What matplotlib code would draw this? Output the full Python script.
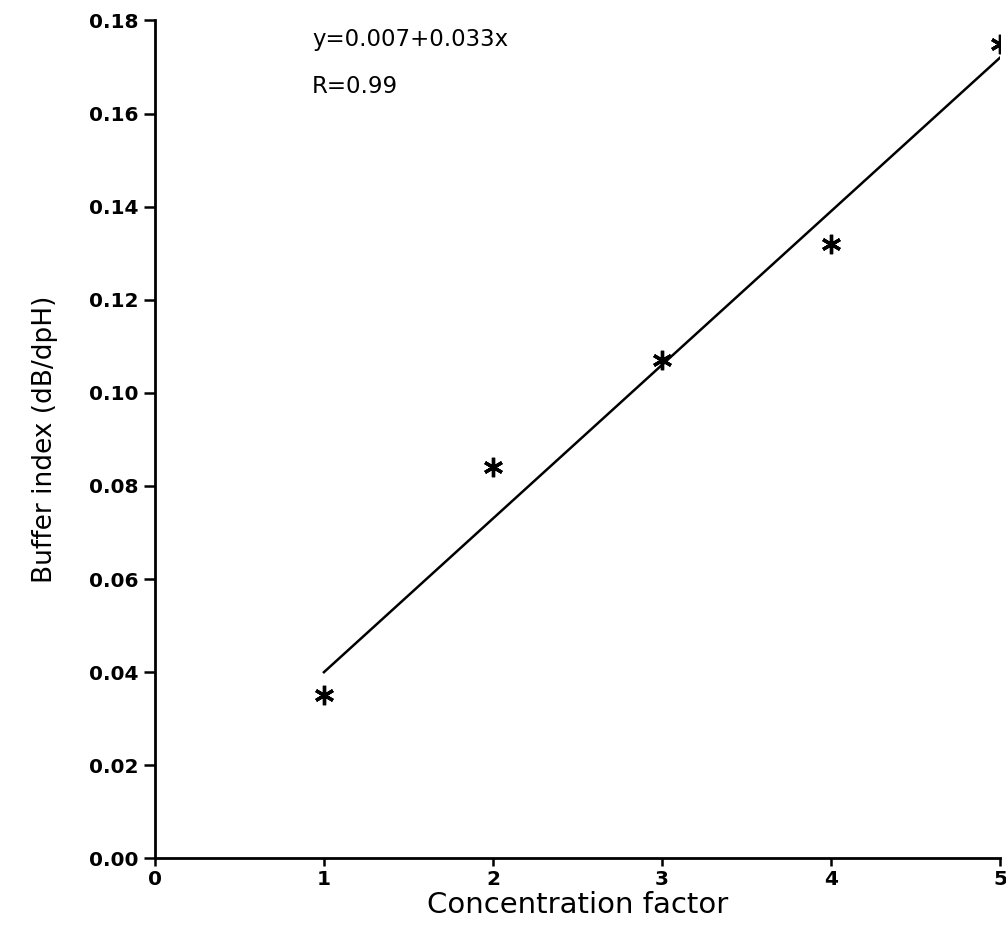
import matplotlib
matplotlib.use("Agg")
import matplotlib.pyplot as plt
import numpy as np

# measured buffer index vs concentration factor
conc = [1, 2, 3, 4, 5]
buffer_index = [0.035, 0.084, 0.107, 0.132, 0.175]

# linear fit y = a + b*x
fit_a = 0.007
fit_b = 0.033
fit_r = 0.99

xticks = [0, 1, 2, 3, 4, 5]
yticks = [0.00, 0.02, 0.04, 0.06, 0.08, 0.10, 0.12, 0.14, 0.16, 0.18]

plt.rcParams["font.family"] = ["DejaVu Sans"]

fig = plt.figure(figsize=(10.06, 9.3), dpi=100)
ax = fig.add_axes([0.154, 0.077, 0.840, 0.901])

xf = np.array([conc[0], conc[-1]], dtype=float)
ax.plot(xf, fit_a + fit_b * xf, color="black", lw=1.8)
ax.plot(conc, buffer_index, linestyle="none", marker=(6, 2, 0),
        markersize=14, markeredgewidth=2.4, color="black")

ax.set_xlim(0, 5)
ax.set_ylim(0, 0.18)
ax.set_xticks(xticks)
ax.set_yticks(yticks)
ax.set_xticklabels([str(t) for t in xticks], fontweight="bold")
ax.set_yticklabels([f"{t:.2f}" for t in yticks], fontweight="bold")

for s in ("top", "right"):
    ax.spines[s].set_visible(False)
for s in ("left", "bottom"):
    ax.spines[s].set_linewidth(2)

ax.tick_params(axis="both", direction="out", width=1.8,
               labelsize=14.5, colors="black")
ax.tick_params(axis="y", length=8, pad=4)
ax.tick_params(axis="x", length=6, pad=2)

ax.set_xlabel("Concentration factor", fontsize=21, labelpad=2)
ax.set_ylabel("Buffer index (dB/dpH)", fontsize=19, labelpad=22)

ax.text(0.93, 0.176, f"y={fit_a:.3f}+{fit_b:.3f}x", fontsize=16.5, va="center")
ax.text(0.93, 0.1658, f"R={fit_r:.2f}", fontsize=16.5, va="center")

fig.savefig("out.png", dpi=100)
